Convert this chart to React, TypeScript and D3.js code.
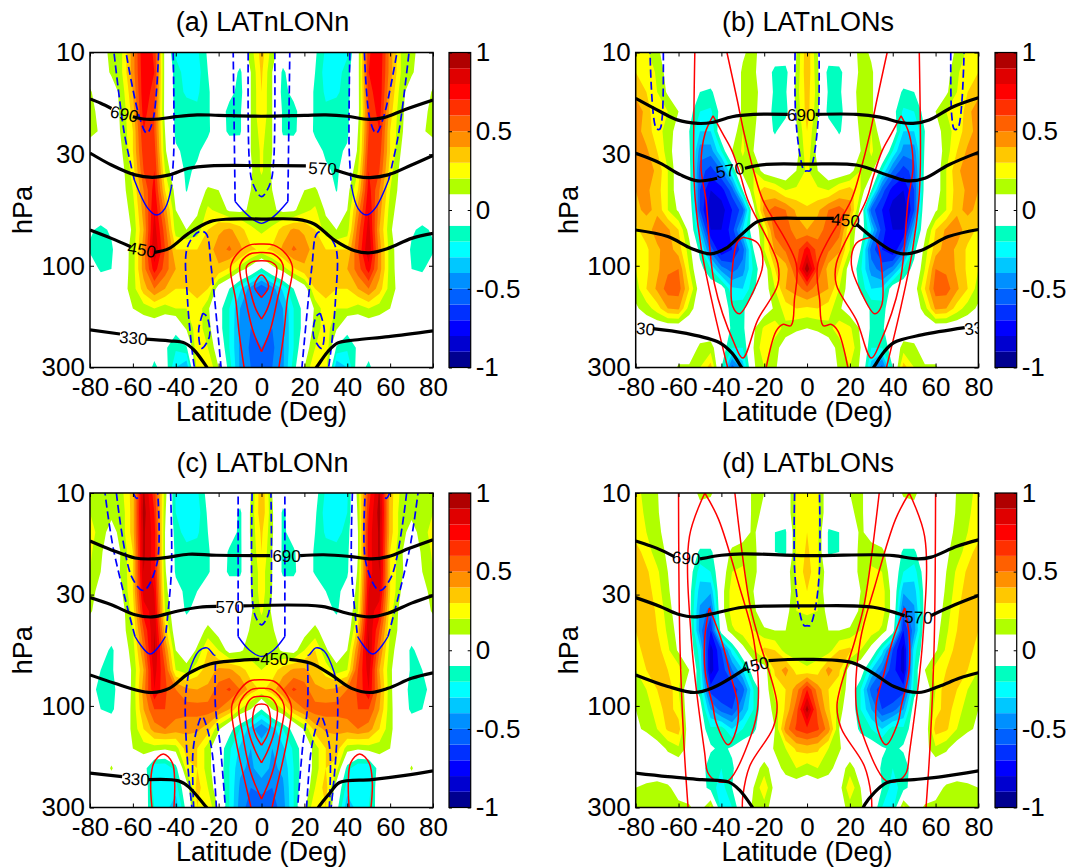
import React, { useEffect, useRef } from "react";
import * as d3 from "d3";

type Pt = [number, number];

const LATS_HALF = [0, 5, 10, 15, 20, 25, 30, 35, 40, 45, 50, 55, 60, 65, 70, 75, 80];
const PRESSURE = [10, 12.4, 15.3, 18.9, 23.4, 28.9, 35.8, 44.3, 54.8, 67.8, 83.8, 103.7, 128, 159, 196, 243, 300];
const LAT_TICKS = [-80, -60, -40, -20, 0, 20, 40, 60, 80];
const P_TICKS = [10, 30, 100, 300];
const CBAR_TICKS = [-1, -0.5, 0, 0.5, 1];
const BAND_EDGES = d3.range(-10, 11).map((d) => d / 10);
const BAND_COLORS = [
  "#000090", "#0000d0", "#0000ff", "#0030ff", "#0060ff", "#0090ff", "#00c8ff", "#00ffff", "#00ffc0", "#ffffff",
  "#ffffff", "#b0ff00", "#ffff00", "#ffc800", "#ff9000", "#ff6000", "#ff3000", "#ff0000", "#e00000", "#b00000",
];

// field values, one row per pressure level, latitude 0..80 (both hemispheres look the same)
const FILL_A = [
  [.35, .15, 0, 0, 0, -.08, -.22, -.25, -.22, .05, .68, .8, .45, .2, .13, .05, 0],
  [.32, .1, -.13, 0, 0, -.1, -.25, -.25, -.15, .05, .7, .78, .45, .2, .12, .02, 0],
  [.3, .1, -.15, -.05, 0, -.12, -.22, -.22, -.15, .05, .65, .78, .4, .15, .02, 0, .12],
  [.3, .1, -.12, -.15, 0, -.12, -.18, -.15, -.13, .05, .6, .75, .35, .12, .05, .05, .15],
  [.25, .1, -.12, -.13, -.02, -.12, -.13, -.13, -.13, .1, .6, .7, .3, .12, .02, .08, .15],
  [.22, .1, -.02, 0, 0, -.05, -.12, -.13, -.08, .12, .65, .65, .3, .1, 0, 0, 0],
  [.22, .08, 0, 0, 0, 0, -.08, -.12, -.03, .2, .7, .6, .25, .06, 0, 0, 0],
  [.13, .1, 0, 0, .1, .12, .02, -.11, .05, .3, .75, .5, .2, .05, 0, 0, 0],
  [.12, .12, .07, .08, .17, .22, .08, 0, .1, .45, .8, .45, .15, .03, 0, 0, 0],
  [.18, .22, .35, .42, .38, .3, .15, .1, .15, .55, .85, .4, .12, 0, -.08, -.13, -.08],
  [.28, .32, .42, .52, .45, .35, .3, .3, .3, .6, .9, .45, .15, .02, -.12, -.15, -.12],
  [-.12, .05, .15, .28, .38, .38, .35, .35, .4, .55, .75, .45, .15, .03, -.1, -.12, -.02],
  [-.6, -.45, -.28, -.1, .03, .3, .33, .3, .3, .4, .5, .35, .15, .05, 0, 0, 0],
  [-.4, -.5, -.4, -.2, -.05, .12, .27, .2, .2, .15, .2, .15, .1, .03, 0, 0, 0],
  [-.45, -.5, -.42, -.2, -.05, .15, .25, .12, -.06, -.02, 0, 0, 0, 0, 0, 0, 0],
  [-.5, -.52, -.42, -.2, .02, .2, .3, -.12, -.18, -.08, -.04, -.02, 0, 0, 0, 0, 0],
  [-.55, -.5, -.42, -.15, .1, .3, .25, -.4, -.3, -.03, -.13, 0, 0, 0, 0, 0, 0],
];
const FILL_B = [
  [.38, .1, 0, 0, 0, .15, .08, 0, 0, 0, 0, 0, 0, .02, .13, .22, .28],
  [.38, .12, -.15, -.14, 0, .13, .12, 0, 0, 0, 0, 0, 0, .05, .18, .28, .3],
  [.35, .15, -.12, -.13, .03, .15, .12, 0, -.02, -.12, -.1, 0, 0, .08, .2, .3, .35],
  [.35, .12, -.15, -.15, 0, .15, .12, 0, -.05, -.22, -.2, -.05, .1, .2, .22, .35, .5],
  [.3, .08, 0, -.12, 0, .12, .2, .02, .02, -.3, -.3, -.1, .05, .15, .25, .35, .45],
  [.27, .05, 0, 0, 0, .1, .22, .1, -.2, -.45, -.45, -.08, .02, .15, .3, .42, .45],
  [.22, .1, 0, 0, .05, .2, .15, -.2, -.5, -.65, -.55, -.05, .02, .2, .38, .45, .42],
  [.22, .22, .2, .3, .35, .2, -.1, -.55, -.75, -.8, -.6, -.03, .02, .2, .35, .42, .4],
  [.32, .38, .5, .55, .45, .05, -.55, -.7, -.85, -.9, -.6, .05, .08, .2, .38, .42, .38],
  [.4, .45, .55, .55, .2, 0, -.3, -.65, -.8, -.8, -.35, .05, .3, .42, .45, .35, .28],
  [.75, .55, .52, .42, .2, -.1, -.55, -.7, -.8, -.55, -.15, .15, .35, .45, .38, .28, .22],
  [.98, .6, .35, .3, .02, -.18, -.45, -.55, -.45, -.2, -.05, .2, .5, .48, .38, .28, .2],
  [.55, .45, .4, .2, .03, -.13, -.3, -.28, -.02, 0, .03, .3, .55, .55, .42, .3, .15],
  [.28, .3, .25, .12, .02, 0, -.12, -.15, 0, 0, .02, .15, .42, .4, .25, .15, .08],
  [.1, .12, .17, .25, .22, .08, -.13, -.12, 0, 0, 0, 0, 0, 0, 0, 0, 0],
  [0, 0, .02, .15, .28, .1, -.2, -.2, -.02, .15, .13, 0, 0, 0, 0, 0, 0],
  [0, 0, 0, .12, .2, .08, -.35, -.55, -.1, .35, .2, .12, .12, 0, 0, 0, 0],
];
const FILL_C = [
  [.38, .1, 0, 0, 0, -.05, -.22, -.28, -.22, .15, .65, .92, .35, .18, .15, .15, .15],
  [.38, .12, -.13, 0, 0, -.08, -.25, -.28, -.2, .12, .7, .95, .35, .15, .13, .15, .2],
  [.32, .12, -.13, -.03, 0, -.1, -.22, -.25, -.15, .1, .75, .92, .35, .15, .05, .15, .25],
  [.3, .1, -.13, -.12, 0, -.12, -.15, -.15, -.13, .1, .75, .92, .3, .12, 0, .12, .22],
  [.25, .1, -.13, -.13, 0, -.12, -.13, -.13, -.12, .12, .75, .9, .3, .12, .03, .1, .2],
  [.25, .1, 0, 0, 0, 0, -.1, -.13, -.05, .15, .8, .85, .3, .1, 0, .05, .15],
  [.22, .08, 0, 0, 0, 0, -.05, -.12, 0, .2, .85, .75, .25, .05, 0, .02, .12],
  [.13, .12, 0, 0, .05, .14, .02, -.02, 0, .35, .9, .6, .2, .05, 0, 0, 0],
  [.12, .15, .08, .05, .2, .3, .12, 0, .1, .5, .92, .5, .15, .02, -.13, -.02, 0],
  [.2, .25, .35, .42, .42, .35, .25, .15, .2, .6, .85, .4, .12, 0, -.12, -.1, 0],
  [.28, .35, .5, .62, .55, .42, .4, .42, .5, .62, .8, .45, .13, -.03, -.14, -.14, -.05],
  [-.1, .1, .2, .4, .5, .55, .55, .55, .55, .6, .6, .4, .13, 0, -.13, -.1, 0],
  [-.5, -.35, -.2, -.05, .12, .35, .42, .42, .45, .5, .45, .3, .13, 0, 0, 0, 0],
  [-.3, -.4, -.32, -.18, -.02, .15, .3, .35, .15, .12, .15, .15, .1, 0, 0, 0, 0],
  [-.35, -.42, -.38, -.2, -.02, .15, .3, .25, -.15, -.3, -.3, -.02, 0, 0, .115, 0, 0],
  [-.45, -.5, -.42, -.2, 0, .2, .35, .02, -.25, -.3, -.25, 0, 0, 0, 0, 0, 0],
  [-.6, -.55, -.45, -.2, .08, .28, .3, -.05, -.38, -.25, -.2, -.03, 0, 0, 0, 0, 0],
];
const FILL_D = [
  [.28, .22, 0, 0, .1, .13, 0, 0, 0, .12, .13, .02, 0, 0, .11, .15, .25],
  [.28, .22, 0, 0, .08, .13, 0, 0, 0, .02, .05, 0, 0, 0, .12, .18, .25],
  [.3, .22, -.12, -.1, .02, .12, .05, 0, 0, 0, 0, 0, 0, .05, .13, .2, .25],
  [.32, .22, -.12, -.1, .05, .12, .15, .13, 0, -.12, -.12, 0, 0, .08, .15, .25, .35],
  [.35, .22, .02, 0, .03, .13, .22, .2, .02, -.2, -.25, -.03, 0, .1, .22, .32, .37],
  [.3, .2, 0, 0, 0, .1, .28, .25, .05, -.38, -.35, -.05, 0, .12, .25, .35, .38],
  [.22, .2, .05, 0, 0, .13, .3, .25, .05, -.55, -.42, -.05, .02, .15, .28, .38, .35],
  [.13, .13, .1, .1, .12, .2, .25, .18, -.02, -.7, -.45, 0, .05, .18, .3, .38, .3],
  [.12, .15, .15, .3, .33, .2, .05, -.25, -.6, -.85, -.25, 0, .08, .22, .35, .35, .25],
  [.22, .25, .45, .32, .02, 0, -.3, -.5, -.65, -.85, -.2, .1, .25, .3, .38, .3, .2],
  [.7, .45, .3, .25, 0, -.2, -.55, -.65, -.7, -.65, -.15, 0, .2, .38, .3, .2, .15],
  [.95, .55, .32, .15, 0, -.2, -.4, -.6, -.55, -.4, -.03, 0, .25, .35, .25, .15, .1],
  [.68, .62, .45, .1, 0, -.13, -.2, -.3, -.15, -.18, -.02, 0, .35, .32, .2, .12, .08],
  [.35, .32, .2, .12, 0, 0, -.02, -.08, -.13, -.08, 0, .05, .18, .12, .03, 0, 0],
  [.15, .2, .15, .03, .15, .03, 0, -.12, -.2, -.18, -.02, 0, 0, 0, 0, 0, 0],
  [0, .02, 0, .05, .28, .1, 0, -.1, -.25, -.15, -.02, 0, .05, .12, .15, .13, .1],
  [0, 0, 0, .03, .15, .12, .02, -.2, -.25, .25, .02, .12, .13, .15, .15, .15, .15],
];

// black temperature contours as [lat, hPa]; gaps are where the labels sit
const BLACK_A: Pt[][] = [
  [[-80, 16.5], [-75, 17.3], [-70, 18.3]],
  [[-60, 20], [-55, 20.5], [-48, 20.5], [-40, 20], [-30, 19.6], [-20, 19.7], [0, 19.9], [20, 19.7], [30, 19.6], [40, 19.9], [50, 20.6], [57, 20.2], [67, 18.5], [80, 16.7]],
  [[-80, 29.6], [-70, 33.7], [-59, 37.5], [-51, 38.5], [-43, 37.5], [-34, 34.9], [-24, 34], [0, 33.9], [20.7, 34]],
  [[34, 35.5], [45, 38.2], [50.6, 38.6], [59, 37.5], [70, 33.7], [80, 30.4]],
  [[-80, 68], [-70, 74.4], [-61, 81.4]],
  [[-50, 86.6], [-43, 82.9], [-34, 70.5], [-24, 62.1], [-15, 60.4], [0, 60.4], [16.7, 60.6], [24.6, 63.7], [34, 75.8], [43.5, 85], [50.6, 86.9], [59, 82.9], [70, 74.4], [80, 70.5]],
  [[-80, 200], [-66, 209]],
  [[-54, 221], [-43, 225], [-36, 230], [-31.4, 249], [-25.9, 295], [-25, 305]],
  [[25, 305], [25.9, 297], [30.9, 253], [35.6, 230], [43.5, 223], [59.3, 215], [80, 202]],
];
const BLACK_B: Pt[][] = [
  [[-80, 16.4], [-68.6, 18.9], [-60.6, 20.7], [-51, 21.5], [-44.5, 21.3], [-35, 20], [-25, 19.5], [-9, 19.5]],
  [[4, 19.5], [23, 19.5], [34, 20.1], [44, 21.3], [49.5, 21.5], [57, 20.7], [68, 18], [80, 16.3]],
  [[-80, 29.7], [-68.6, 33], [-59, 37.5], [-51, 40], [-42, 38.9]],
  [[-29, 34.9], [-19, 33.5], [0, 33.4], [23, 33.7], [37.4, 37.5], [47, 40], [55, 38.9], [66, 33.7], [80, 29.4]],
  [[-80, 68], [-65, 73], [-54, 83], [-45, 88], [-38, 83], [-30, 70.5], [-23, 62], [-14, 60], [0, 60], [12.5, 60]],
  [[23, 63.7], [31, 74.4], [39, 84.5], [44.7, 88], [53.5, 84.5], [66, 73], [80, 67.6]],
  [[-72, 197], [-57, 207], [-41, 229], [-35, 257], [-31, 295], [-30, 305]],
  [[30.5, 305], [31.5, 295], [36, 253], [40.6, 229], [53.5, 211], [73.6, 195]],
];
const BLACK_C: Pt[][] = [
  [[-80, 16.8], [-70, 18.5], [-59, 20.2], [-51, 20.4], [-43, 20], [-34, 19.4], [-21, 19.6], [4, 19.7]],
  [[18, 19.7], [29, 19.5], [42, 19.9], [51.4, 20.4], [59, 19.9], [69, 18.2], [80, 16.6]],
  [[-80, 31], [-70, 33.5], [-59, 37.3], [-51, 38.2], [-40, 36], [-29, 34.4], [-21, 34.1]],
  [[-8.5, 33.9], [28, 34.1], [40, 36.7], [50.6, 38.2], [59, 36.7], [70, 32.9], [80, 30.3]],
  [[-80, 71.5], [-68.5, 78.3], [-59, 84], [-51, 86.5], [-43, 82.7], [-34, 70.3], [-24, 63.5], [-12, 61.3], [-1, 60.4]],
  [[13, 60.4], [23, 63], [32.6, 71.5], [42, 82.7], [50.6, 86.5], [59, 82.7], [70, 74.2], [80, 69.9]],
  [[-80, 207], [-65, 215]],
  [[-52.7, 222], [-38.7, 225], [-34, 240], [-26, 297], [-25, 305]],
  [[26, 305], [27, 295], [31.7, 258], [36.4, 229], [51.4, 222], [67, 212], [80, 202]],
];
const BLACK_D: Pt[][] = [
  [[-80, 16.8], [-70, 18.2], [-62, 19.9]],
  [[-50, 20.4], [-40, 19.6], [-30, 19.3], [0, 19.7], [31, 19.5], [40.6, 19.7], [52, 20.4], [58, 20], [70, 17.8], [80, 16.6]],
  [[-80, 31], [-68.6, 34.1], [-60.5, 37], [-52.5, 38.2], [-43, 36.7], [-30, 34.4], [0, 33.9], [31, 34.4], [45.5, 37.7]],
  [[58, 37.6], [69, 33.5], [80, 30.3]],
  [[-80, 71.5], [-65, 81], [-52.5, 86.5], [-44.5, 82.7], [-28.4, 66.5]],
  [[-18, 61.3], [0, 60.4], [21, 62.6], [31, 70.3], [40.6, 81], [52, 86.5], [61.5, 81], [71, 74.2], [80, 69.9]],
  [[-80, 207], [-65, 215], [-49, 222], [-36.5, 228], [-31.6, 248], [-25.7, 297], [-25, 305]],
  [[26, 305], [27, 290], [31, 258], [37.4, 229], [50, 222], [63, 215], [80, 202]],
];

// contour labels: [text, lat, hPa, rotation]
const LABELS_A: [string, number, number, number][] = [["690", -64, 19.4, 12], ["570", 28.5, 34.9, 3], ["450", -55.8, 84, 10], ["330", -59.8, 218, 5]];
const LABELS_B: [string, number, number, number][] = [["690", -2.7, 19.6, 0], ["570", -36, 35.6, -10], ["450", 18, 61, 4], ["330", -77.6, 196, 6], ["330", 80, 195, -6]];
const LABELS_C: [string, number, number, number][] = [["690", 11.7, 19.8, 0], ["570", -14.8, 34.2, 0], ["450", 6, 60.4, 0], ["330", -58.7, 220, 3]];
const LABELS_D: [string, number, number, number][] = [["690", -56.4, 20.2, 5], ["570", 52, 38.3, 2], ["450", -24.4, 64.3, -14]];

// red (positive) and blue dashed (negative) contours
// "center" lines are given for one hemisphere and joined with their mirror at lat 0,
// "side" lines are simply drawn in both hemispheres
const RED_A_CENTER: Pt[][] = [
  [[0, 79], [5.7, 80], [11.2, 87.5], [14.4, 101], [12, 145], [10.4, 208], [8, 305]],
  [[0, 86.7], [5.7, 88.3], [10, 99], [7.3, 145], [4.1, 200], [0, 253]],
  [[0, 94.7], [4.1, 95.7], [7, 101], [4.9, 135], [2.5, 161], [0, 178]],
  [[0, 110.6], [3.3, 124.6], [0, 140.8]],
];
const BLUE_A_CENTER: Pt[][] = [
  [[0, 47.4], [4.1, 41], [5.7, 31.9], [6.2, 10]],
];
const BLUE_A_CENTER_SOLID: Pt[][] = [[[0, 63.3], [2.5, 62], [7.3, 56.8], [12.3, 50]]];
const BLUE_A_SIDE: Pt[][] = [
  [[12.3, 50], [13.2, 10]],
  [[41.2, 10], [40.9, 28.6], [42, 42.6]],
  [[59.3, 39.6], [64, 23.9], [68.8, 10]],
  [[48, 10], [50.6, 20.7], [53.5, 23.9], [57, 20], [63.2, 10]],
  [[18.8, 305], [23.5, 101], [25.9, 70.5], [29, 69.2], [34.5, 81.4], [34.5, 145], [31.4, 295], [31, 305]],
  [[27.4, 167], [29.3, 200], [28, 244], [24.3, 215], [25.5, 173], [27.4, 167]],
];
const BLUE_A_SIDE_SOLID: Pt[][] = [[[42, 42.6], [45, 53.8], [49, 57.8], [53, 53.8], [59.3, 39.6]]];

const RED_B_SIDE: Pt[][] = [
  [[37.4, 10], [32.6, 16.7], [29.4, 23.9], [24.6, 36.9], [20.7, 49], [5.1, 97.3], [5.9, 144.6], [7.5, 191], [11.4, 188.5], [14.5, 203], [19.2, 305]],
  [[52.4, 10], [52.9, 34], [52.2, 49], [49.3, 84], [43.9, 155], [36.9, 305]],
  [[43.9, 19.8], [47.6, 23.9], [49.5, 34.3], [47.2, 49], [43.3, 120.8], [34, 231], [30, 271], [23, 179.4], [13.7, 123], [13.7, 97.3], [27.7, 49], [31, 38], [35, 29], [39.5, 23.9], [43.9, 19.8]],
  [[30, 73.5], [23, 78.4], [20.7, 99], [25.4, 134], [31.6, 168], [34.7, 155], [34.7, 99], [32.4, 77], [30, 73.5]],
];
const BLUE_B_CENTER: Pt[][] = [[[0, 35.9], [1.3, 35.9], [2.9, 31.9], [5.3, 20], [5.6, 10]]];
const BLUE_B_SIDE: Pt[][] = [[[67.1, 10], [67.6, 20], [68.8, 22.9], [70.4, 22.7], [73.3, 10]]];

const RED_C_CENTER: Pt[][] = [
  [[0, 75.3], [5.8, 76.6], [11.2, 87], [13.9, 100.6], [12, 144], [5, 297], [4.8, 305]],
  [[0, 82.7], [5, 84], [10.4, 98.6], [8.9, 134], [5, 206], [0, 274]],
  [[0, 90], [4.2, 91.5], [7.3, 102], [5.8, 134], [2.6, 165], [0, 185]],
  [[0, 98], [2.6, 99.6], [4.2, 120], [2.6, 138], [0, 153]],
];
const RED_C_SIDE: Pt[][] = [
  [[40.9, 305], [40.5, 230], [41.6, 185], [45.8, 168], [50.2, 185], [51.7, 230], [51, 305]],
];
const BLUE_C_CENTER: Pt[][] = [[[0, 41.6], [2.5, 38.7], [4.1, 32.9], [4.4, 10]]];
const BLUE_C_CENTER_SOLID: Pt[][] = [[[0, 58.6], [5.7, 54.6], [10.9, 47.2]]];
const BLUE_C_SIDE: Pt[][] = [
  [[10.9, 47.2], [10.9, 10]],
  [[42.4, 10], [42, 22.9], [44.8, 47.2]],
  [[59, 47.2], [69, 18.5], [73, 10]],
  [[67.7, 10], [60.6, 24.7], [55, 28.7], [48.7, 21.3], [48.4, 10]],
  [[59.8, 10], [58.2, 10.6], [56.6, 10]],
  [[34, 70], [35.5, 93.4], [34.7, 172], [32.4, 305]],
  [[21.5, 63], [21.5, 100], [19.2, 155], [16.8, 305]],
  [[31.6, 305], [32, 166], [30, 127], [27.7, 112], [25.4, 127], [23, 166], [21, 305]],
];
const BLUE_C_SIDE_SOLID: Pt[][] = [
  [[44.8, 47.2], [51.9, 57], [59, 47.2]],
  [[21.5, 58], [22.3, 57.5], [25.4, 53.4], [29.3, 55.4], [34, 70]],
];

const RED_D_SIDE: Pt[][] = [
  [[60, 10], [59.4, 49], [57.5, 150], [55.5, 305]],
  [[47.7, 10], [54.9, 16], [54, 49], [47.8, 166], [46.3, 206], [42.4, 225], [36.9, 225], [26, 136.4], [22.9, 98.6], [24.9, 48.9], [31.6, 27.5], [41.3, 13.3], [47.7, 10]],
  [[45.6, 34.7], [47.7, 47], [47.5, 70], [44, 100], [42.4, 120], [36.9, 152], [33, 129], [32.2, 100], [36, 70], [40, 49], [45.6, 34.7]],
  [[33.7, 10], [26.8, 32.9], [22.4, 49], [14, 98.6], [15.9, 127], [26.8, 192], [30, 266], [30.2, 305]],
];
const BLUE_D_CENTER: Pt[][] = [[[0, 42], [1.3, 42], [3.7, 35.4], [5.8, 22.9], [5.8, 10]]];

const PANELS = [
  { title: "(a) LATnLONn", fill: FILL_A, black: BLACK_A, labels: LABELS_A, redCenter: RED_A_CENTER, redSide: [], blueCenter: BLUE_A_CENTER, blueSide: BLUE_A_SIDE, solidCenter: BLUE_A_CENTER_SOLID, solidSide: BLUE_A_SIDE_SOLID, x: 90, y: 52.5, w: 343, h: 315, barX: 449, barW: 21.7 },
  { title: "(b) LATnLONs", fill: FILL_B, black: BLACK_B, labels: LABELS_B, redCenter: [], redSide: RED_B_SIDE, blueCenter: BLUE_B_CENTER, blueSide: BLUE_B_SIDE, solidCenter: [], solidSide: [], x: 635.7, y: 52.5, w: 342.7, h: 315, barX: 995, barW: 21.7 },
  { title: "(c) LATbLONn", fill: FILL_C, black: BLACK_C, labels: LABELS_C, redCenter: RED_C_CENTER, redSide: RED_C_SIDE, blueCenter: BLUE_C_CENTER, blueSide: BLUE_C_SIDE, solidCenter: BLUE_C_CENTER_SOLID, solidSide: BLUE_C_SIDE_SOLID, x: 90, y: 493, w: 343, h: 314.5, barX: 449, barW: 21.7 },
  { title: "(d) LATbLONs", fill: FILL_D, black: BLACK_D, labels: LABELS_D, redCenter: [], redSide: RED_D_SIDE, blueCenter: BLUE_D_CENTER, blueSide: [], solidCenter: [], solidSide: [], x: 635.7, y: 493, w: 342.7, h: 314.5, barX: 995, barW: 21.7 },
];

const FONT = "'Liberation Sans', Arial, sans-serif";

const flip = (line: Pt[]): Pt[] => line.map(([la, p]) => [-la, p] as Pt);
const joinMirror = (half: Pt[]): Pt[] =>
  half[0][0] === 0 ? [...flip(half).reverse(), ...half.slice(1)] : [...half.slice(0, -1), ...flip(half).reverse()];
const bothSides = (lines: Pt[][]): Pt[][] => lines.flatMap((l) => [l, flip(l)]);

function drawPanel(svg: d3.Selection<SVGSVGElement, unknown, null, undefined>, panel: (typeof PANELS)[number], idx: number) {
  const { x: px, y: py, w, h } = panel;
  const x = d3.scaleLinear().domain([-80, 80]).range([px, px + w]);
  const y = d3.scaleLog().domain([10, 300]).range([py, py + h]);

  const clipId = `clip-${idx}`;
  svg.append("clipPath").attr("id", clipId).append("rect").attr("x", px).attr("y", py).attr("width", w).attr("height", h);
  const g = svg.append("g").attr("clip-path", `url(#${clipId})`);

  // filled bands: full grid comes from mirroring the rows
  const cols = LATS_HALF.length * 2 - 1;
  const values = panel.fill.flatMap((row) => [...row.slice(1).reverse(), ...row]);
  const gridX = d3.scaleLinear().domain([0.5, cols - 0.5]).range([x(-80), x(80)]);
  const gridY = d3.scaleLinear().domain([0.5, PRESSURE.length - 0.5]).range([y(PRESSURE[0]), y(PRESSURE[PRESSURE.length - 1])]);
  const thresholds = BAND_EDGES.slice(1, -1);
  const contours = d3.contours().size([cols, PRESSURE.length]).thresholds(thresholds)(values);
  const path = d3.geoPath(
    d3.geoTransform({
      point(cx: number, cy: number) {
        (this as any).stream.point(gridX(cx), gridY(cy));
      },
    })
  );
  g.append("rect").attr("x", px).attr("y", py).attr("width", w).attr("height", h).attr("fill", BAND_COLORS[0]);
  g.selectAll("path.band")
    .data(contours)
    .enter()
    .append("path")
    .attr("class", "band")
    .attr("d", (d) => path(d as any))
    .attr("fill", (_, i) => BAND_COLORS[i + 1]);

  const smooth = d3.line<Pt>().x((d) => x(d[0])).y((d) => y(d[1])).curve(d3.curveCatmullRom.alpha(0.5));

  const addLines = (lines: Pt[][], color: string, width: number, dash?: string) => {
    g.append("g")
      .selectAll("path")
      .data(lines)
      .enter()
      .append("path")
      .attr("d", (d) => smooth(d))
      .attr("fill", "none")
      .attr("stroke", color)
      .attr("stroke-width", width)
      .attr("stroke-dasharray", dash ?? null);
  };

  addLines([...panel.redCenter.map(joinMirror), ...bothSides(panel.redSide)], "#ff0000", 1.5);
  addLines([...panel.blueCenter.map(joinMirror), ...bothSides(panel.blueSide)], "#0000ff", 1.7, "8 4");
  addLines([...panel.solidCenter.map(joinMirror), ...bothSides(panel.solidSide)], "#0000ff", 1.4);
  addLines(panel.black, "#000", 3.2);

  g.append("g")
    .selectAll("text")
    .data(panel.labels)
    .enter()
    .append("text")
    .attr("transform", (d) => `translate(${x(d[1])},${y(d[2])}) rotate(${d[3]})`)
    .attr("text-anchor", "middle")
    .attr("dy", "0.36em")
    .attr("font-size", 17)
    .attr("font-family", FONT)
    .text((d) => d[0]);

  // frame and inward ticks on all four sides
  const styleAxis = (sel: d3.Selection<SVGGElement, unknown, null, undefined>) => {
    sel.selectAll(".domain").remove();
    sel.selectAll(".tick line").attr("stroke", "#000").attr("stroke-width", 1);
    sel.selectAll("text").attr("font-size", 26).attr("font-family", FONT).attr("fill", "#000");
  };
  svg.append("g").attr("transform", `translate(0,${py + h})`)
    .call(d3.axisBottom(x).tickValues(LAT_TICKS).tickSize(-4).tickPadding(10).tickFormat((d) => `${d}`))
    .call(styleAxis);
  svg.append("g").attr("transform", `translate(0,${py})`)
    .call(d3.axisTop(x).tickValues(LAT_TICKS).tickSize(-4).tickFormat(() => ""))
    .call(styleAxis);
  svg.append("g").attr("transform", `translate(${px},0)`)
    .call(d3.axisLeft(y).tickValues(P_TICKS).tickSize(-4).tickPadding(5).tickFormat((d) => `${d}`))
    .call(styleAxis);
  svg.append("g").attr("transform", `translate(${px + w},0)`)
    .call(d3.axisRight(y).tickValues(P_TICKS).tickSize(-4).tickFormat(() => ""))
    .call(styleAxis);
  svg.append("rect").attr("x", px).attr("y", py).attr("width", w).attr("height", h)
    .attr("fill", "none").attr("stroke", "#000").attr("stroke-width", 1.5);

  const cx = px + w / 2;
  svg.append("text").attr("x", cx + 1).attr("y", py - 21.5).attr("text-anchor", "middle")
    .attr("font-size", 27).attr("font-family", FONT).text(panel.title);
  svg.append("text").attr("x", cx).attr("y", py + h + 53).attr("text-anchor", "middle")
    .attr("font-size", 27).attr("font-family", FONT).text("Latitude (Deg)");
  svg.append("text").attr("transform", `translate(${px - 58},${py + h / 2}) rotate(-90)`).attr("text-anchor", "middle")
    .attr("font-size", 27).attr("font-family", FONT).text("hPa");

  // colorbar
  const bar = d3.scaleLinear().domain([-1, 1]).range([py + h, py]);
  svg.append("g")
    .selectAll("rect")
    .data(BAND_COLORS)
    .enter()
    .append("rect")
    .attr("x", panel.barX)
    .attr("width", panel.barW)
    .attr("y", (_, i) => bar(BAND_EDGES[i + 1]))
    .attr("height", (_, i) => bar(BAND_EDGES[i]) - bar(BAND_EDGES[i + 1]))
    .attr("fill", (d) => d);
  svg.append("rect").attr("x", panel.barX).attr("y", py).attr("width", panel.barW).attr("height", h)
    .attr("fill", "none").attr("stroke", "#000").attr("stroke-width", 1.2);
  svg.append("g").attr("transform", `translate(${panel.barX + panel.barW},0)`)
    .call(d3.axisRight(bar).tickValues(CBAR_TICKS).tickSize(-3).tickPadding(5).tickFormat((d) => `${d}`))
    .call(styleAxis);
  svg.append("g").attr("transform", `translate(${panel.barX},0)`)
    .call(d3.axisLeft(bar).tickValues(CBAR_TICKS).tickSize(-3).tickFormat(() => ""))
    .call(styleAxis);
}

export default function App() {
  const ref = useRef<SVGSVGElement>(null);

  useEffect(() => {
    if (!ref.current) return;
    const svg = d3.select(ref.current);
    svg.selectAll("*").remove();
    PANELS.forEach((p, i) => drawPanel(svg, p, i));
  }, []);

  return (
    <svg
      ref={ref}
      width={1069}
      height={867}
      style={{ position: "absolute", left: 0, top: 0, background: "#fff" }}
    />
  );
}
